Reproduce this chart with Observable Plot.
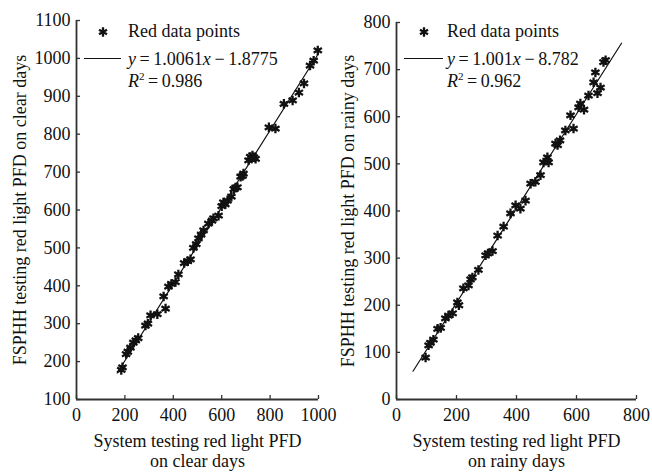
<!DOCTYPE html>
<html><head><meta charset="utf-8">
<script src="https://cdn.jsdelivr.net/npm/d3@7"></script>
<script src="https://cdn.jsdelivr.net/npm/@observablehq/plot@0.6"></script>
<style>
body{margin:0;background:#fff;}
#wrap{display:flex;width:652px;height:472px;background:#fff;}
svg{overflow:visible;}
</style></head><body><div id="wrap"></div>
<script>
// ---- data ----
const clearX = [185,190,205,212,223,235,245,255,285,295,306,334,368,360,380,392,409,421,445,460,471,483,495,504,515,525,545,560,566,587,600,607,615,624,640,650,657,665,678,686,690,711,718,727,740,733,795,822,857,893,919,940,965,980,997];
const clearY = [178,185,220,226,237,250,256,262,295,300,322,325,340,372,398,405,410,430,460,465,470,500,510,525,535,546,564,572,578,585,610,620,615,625,635,655,659,660,688,690,696,731,740,744,735,739,818,815,880,889,910,934,981,994,1021];
const rainyX = [97,107,113,123,137,147,163,173,187,203,208,223,240,247,253,273,297,305,320,337,357,380,397,413,430,447,463,480,490,503,507,530,537,545,563,590,580,607,613,625,640,670,657,680,663,690,697];
const rainyY = [89,115,120,127,150,152,172,178,183,206,200,236,242,255,259,275,306,310,315,348,367,395,412,405,422,458,462,476,503,514,503,543,540,550,571,575,603,620,628,615,645,650,673,662,694,716,720];
const clearFitX = [168, 1000];
const clearFitY = [170, 1013];
const rainyFitX = [55, 750];
const rainyFitY = [60, 756];
const clearXTicks = [0,200,400,600,800,1000];
const clearYTicks = [100,200,300,400,500,600,700,800,900,1000,1100];
const rainyXTicks = [0,200,400,600,800];
const rainyYTicks = [0,100,200,300,400,500,600,700,800];
const legendPoints = "Red data points";
const clearEq = ["1.0061", "1.8775", "0.986"];
const rainyEq = ["1.001", "8.782", "0.962"];
const clearXLabel = "System testing red light PFD\non clear days";
const rainyXLabel = "System testing red light PFD\non rainy days";
const clearYLabel = "FSPHH testing red light PFD on clear days";
const rainyYLabel = "FSPHH testing red light PFD on rainy days";

const FONT = "'Liberation Serif', 'Times New Roman', serif";
const AX = "#333";

function panel(o) {
  const W = 326, H = 472;
  const plotW = W - o.ml - o.mr, plotH = H - o.mt - o.mb;
  const pts = o.xs.map((x, i) => ({x, y: o.ys[i]}));
  const fit = o.fx.map((x, i) => ({x, y: o.fy[i]}));
  const svg = Plot.plot({
    width: W, height: H,
    marginLeft: o.ml, marginRight: o.mr, marginTop: o.mt, marginBottom: o.mb,
    x: {domain: o.xd, label: null},
    y: {domain: o.yd, label: null},
    style: {fontFamily: FONT, fontSize: "18px", color: "#111", background: "transparent", overflow: "visible"},
    marks: [
      Plot.axisX(o.xt, {tickSize: 0, tickPadding: 9, label: null, fill: "#111", tickFormat: d => String(d)}),
      Plot.axisY(o.yt, {tickSize: 0, tickPadding: 6, label: null, fill: "#111", tickFormat: d => String(d)}),
      Plot.tickX(o.xt, {x: d => d, insetTop: plotH - 4, stroke: AX, strokeWidth: 1.3}),
      Plot.tickY(o.yt, {y: d => d, insetRight: plotW - 4, stroke: AX, strokeWidth: 1.3}),
      Plot.ruleX([o.xd[0]], {stroke: AX, strokeWidth: 1.8}),
      Plot.ruleY([o.yd[0]], {stroke: AX, strokeWidth: 1.8}),
      Plot.line(fit, {x: "x", y: "y", stroke: "#111", strokeWidth: 1.2}),
      Plot.dot(pts, {x: "x", y: "y", symbol: "asterisk", r: 4.5, stroke: "#111", strokeWidth: 2.3}),
      Plot.text([o.xl], {text: d => d, frameAnchor: "bottom", textAnchor: "middle", lineAnchor: "middle", dy: 51, lineHeight: 1.15, fontSize: 18, fill: "#111"}),
      Plot.text([o.yl], {text: d => d, frameAnchor: "left", textAnchor: "middle", lineAnchor: "middle", rotate: -90, dx: -o.ylOff, fontSize: 18, fill: "#111"})
    ]
  });
  // legend
  const g = d3.select(svg).append("g").attr("font-family", FONT).attr("font-size", 18)
    .attr("fill", "#111").attr("text-anchor", "start");
  g.append("path").attr("d", d3.symbol(d3.symbolAsterisk, 60)())
    .attr("transform", `translate(${o.lg.mx},32)`).attr("stroke", "#111").attr("stroke-width", 2.3).attr("fill", "none");
  g.append("text").attr("x", o.lg.tx).attr("y", 37).text(legendPoints);
  g.append("line").attr("x1", o.lg.l1).attr("x2", o.lg.l2).attr("y1", 58.5).attr("y2", 58.5)
    .attr("stroke", "#111").attr("stroke-width", 1.2);
  const t2 = g.append("text").attr("x", o.lg.tx).attr("y", 64.5);
  t2.append("tspan").attr("font-style", "italic").text("y");
  t2.append("tspan").text("\u2009=\u2009" + o.eq[0]);
  t2.append("tspan").attr("font-style", "italic").text("x");
  t2.append("tspan").text("\u2009\u2212\u2009" + o.eq[1]);
  const t3 = g.append("text").attr("x", o.lg.tx).attr("y", 87);
  t3.append("tspan").attr("font-style", "italic").text("R");
  t3.append("tspan").attr("font-size", 11).attr("dy", -7).text("2");
  t3.append("tspan").attr("dy", 7).text("\u2009=\u2009" + o.eq[2]);
  return svg;
}

const wrap = document.getElementById("wrap");
wrap.append(panel({
  xs: clearX, ys: clearY, fx: clearFitX, fy: clearFitY,
  xd: [0, 1000], yd: [100, 1100], xt: clearXTicks, yt: clearYTicks,
  ml: 76, mr: 8, mt: 20, mb: 73,
  xl: clearXLabel, yl: clearYLabel, ylOff: 56,
  eq: clearEq, lg: {mx: 103, tx: 128, l1: 84, l2: 121}
}));
wrap.append(panel({
  xs: rainyX, ys: rainyY, fx: rainyFitX, fy: rainyFitY,
  xd: [0, 800], yd: [0, 800], xt: rainyXTicks, yt: rainyYTicks,
  ml: 70, mr: 16, mt: 22, mb: 73,
  xl: rainyXLabel, yl: rainyYLabel, ylOff: 48,
  eq: rainyEq, lg: {mx: 98, tx: 121, l1: 78, l2: 117}
}));
</script>
</body></html>
